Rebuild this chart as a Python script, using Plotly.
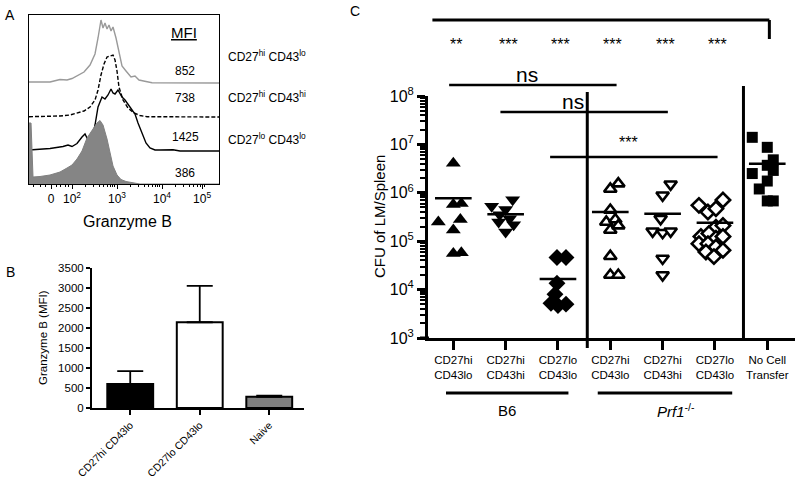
import numpy as np
import plotly.graph_objects as go

W, H = 800, 480
FONT = "Liberation Sans, Arial, sans-serif"


def px(x):
    return x / W


def py(y):
    return 1 - y / H


# ---------------- Panel A: Granzyme B histograms (x in decades, h = height above baseline) ----
gray_x = [1.044, 1.511, 1.733, 1.889, 2.0, 2.133, 2.267, 2.4, 2.511, 2.578, 2.644, 2.689, 2.733,
          2.778, 2.822, 2.867, 2.911, 2.978, 3.044, 3.111, 3.2, 3.311, 3.4, 3.489, 3.644, 3.778, 5.267]
gray_h = [1, 1, 3.5, 3, 4.5, 8, 11, 18, 29, 45, 63, 55, 60, 54, 58, 52, 56, 45, 30, 17, 12, 6, 7,
          3, 1.5, 0.3, 0]

dash_x = [1.044, 1.733, 1.956, 2.133, 2.267, 2.4, 2.511, 2.578, 2.644, 2.711, 2.778, 2.844, 2.911,
          2.956, 3.0, 3.044, 3.133, 3.244, 3.378, 3.511, 3.667, 5.267]
dash_h = [0.3, 1, 2, 4, 6, 10, 17, 27, 42, 53, 60, 61, 62, 57, 46, 30, 17, 9, 4, 1.5, 0.3, 0]

black_x = [1.044, 1.511, 1.8, 1.911, 2.0, 2.111, 2.222, 2.289, 2.356, 2.444, 2.511, 2.578, 2.667,
           2.733, 2.8, 2.867, 2.911, 2.956, 3.022, 3.111, 3.178, 3.244, 3.333, 3.4, 3.467, 3.556,
           3.644, 3.733, 3.844, 3.956, 4.244, 4.4, 5.267]
black_h = [1, 2.5, 4.5, 6, 4.5, 7.5, 14, 17, 11, 11, 26, 44, 54, 52, 56, 62, 58, 57, 61, 54, 51, 47,
           41, 37, 28, 18, 8, 3, 1, 1, 1.3, 0, 0]

fill_x = [1.044, 1.089, 1.133, 1.289, 1.511, 1.733, 1.889, 2.0, 2.111, 2.222, 2.333, 2.444, 2.556,
          2.622, 2.689, 2.778, 2.844, 2.911, 3.0, 3.089, 3.2, 3.356, 3.511, 5.267]
fill_h = [61, 61, 7, 7.5, 9, 12, 16, 19, 25, 33, 46, 53, 61, 63.5, 59, 45, 31, 18, 9, 4.5, 2.5, 1,
          0, 0]

mfi_values = ["852", "738", "1425", "386"]
pop_labels = ["CD27<sup>hi</sup> CD43<sup>lo</sup>", "CD27<sup>hi</sup> CD43<sup>hi</sup>",
              "CD27<sup>lo</sup> CD43<sup>lo</sup>"]
hist_ticks = [1.533, 2, 3, 4, 4.89]
hist_ticktext = ["0", "10<sup>2</sup>", "10<sup>3</sup>", "10<sup>4</sup>", "10<sup>5</sup>"]

# ---------------- Panel B: bar chart ----------------
b_cats = ["CD27hi CD43lo", "CD27lo CD43lo", "Naive"]
b_vals = [600, 2150, 280]
b_err = [325, 910, 30]

# ---------------- Panel C: CFU scatter ----------------
c_cats = ["CD27hi<br>CD43lo", "CD27hi<br>CD43hi", "CD27lo<br>CD43lo", "CD27hi<br>CD43lo",
          "CD27hi<br>CD43hi", "CD27lo<br>CD43lo", "No Cell<br>Transfer"]
c_vals = [
    [4.1e6, 5.7e5, 6.0e5, 2.5e5, 2.8e5, 1.7e5, 5.6e4, 5.8e4],
    [7.2e5, 5.3e5, 4.5e5, 3.5e5, 2.9e5, 2.5e5, 2.2e5, 1.55e5],
    [4.6e4, 4.6e4, 1.35e4, 8.0e3, 5.2e3, 4.7e3, 5.0e3],
    [1.2e6, 1.55e6, 4.4e5, 2.5e5, 2.8e5, 1.7e5, 2.1e5, 4.9e4, 2.0e4, 2.0e4],
    [1.5e6, 8.9e5, 2.9e5, 1.6e5, 1.5e5, 1.6e5, 4.4e4, 2.0e4],
    [5.5e5, 4.0e5, 4.7e5, 7.1e5, 1.95e5, 2.1e5, 1.25e5, 1.45e5, 1.15e5, 1.25e5, 8.9e4, 8.9e4,
     7.6e4, 6.0e4, 4.8e4, 6.5e4],
    [1.4e7, 8.7e6, 4.8e6, 3.7e6, 2.9e6, 2.5e6, 1.75e6, 1.2e6, 6.8e5, 6.8e5],
]
c_jitter_px = [
    [0, 0, 8, -15, 7, 0, 0, 8],
    [7, -14, 0, -6, 4, -7, 8, 0],
    [-1, 8, -1, -3, -7, 0, 8],
    [0, 8, 0, -4, 5, 0, 8, 0, 0, 8],
    [8, 0, -2, -10, 0, 8, 0, 0],
    [-16, -7, 1, 8, 1, 8, -14, -6, 1, 8, -16, -7, 1, -9, -1, 8],
    [-15, 0, 6, 0, 6, -15, 0, -8, 0, 6],
]
c_means = [7.7e5, 3.6e5, 1.65e4, 4.0e5, 3.7e5, 2.4e5, 4.0e6]
c_stars = ["**", "***", "***", "***", "***", "***"]
c_ytick_vals = [1e3, 1e4, 1e5, 1e6, 1e7, 1e8]
c_ytick_text = ["10<sup>3</sup>", "10<sup>4</sup>", "10<sup>5</sup>", "10<sup>6</sup>",
                "10<sup>7</sup>", "10<sup>8</sup>"]

fig = go.Figure()

# ---- Panel A traces
offsets = [101, 67, 33, 0]
fig.add_trace(go.Scatter(x=gray_x, y=np.array(gray_h) + offsets[0], mode="lines",
                         line=dict(color="#9a9a9a", width=1.4), xaxis="x", yaxis="y",
                         showlegend=False, hoverinfo="skip"))
fig.add_trace(go.Scatter(x=dash_x, y=np.array(dash_h) + offsets[1], mode="lines",
                         line=dict(color="black", width=1.4, dash="4px,2px"), xaxis="x",
                         yaxis="y", showlegend=False, hoverinfo="skip"))
fig.add_trace(go.Scatter(x=black_x, y=np.array(black_h) + offsets[2], mode="lines",
                         line=dict(color="black", width=1.4), xaxis="x", yaxis="y",
                         showlegend=False, hoverinfo="skip"))
fig.add_trace(go.Scatter(x=fill_x, y=np.array(fill_h) + offsets[3], mode="lines", fill="tozeroy",
                         fillcolor="#858585", line=dict(color="#808080", width=1), xaxis="x",
                         yaxis="y", showlegend=False, hoverinfo="skip"))

# ---- Panel B
fig.add_trace(go.Bar(x=b_cats, y=b_vals, width=0.66,
                     marker=dict(color=["black", "white", "#808080"],
                                 line=dict(color="black", width=2)),
                     error_y=dict(type="data", symmetric=False, array=b_err,
                                  arrayminus=[0, 0, 0], color="black", thickness=1.8, width=13),
                     xaxis="x2", yaxis="y2", showlegend=False))

# ---- Panel C
CAT_PX = 52.3
symbols = ["triangle-up", "triangle-down", "diamond", "triangle-up", "triangle-down", "diamond",
           "square"]
fills = ["black", "black", "black", "white", "white", "white", "black"]
sizes = [13, 13, 13, 11, 11, 11, 11]
lws = [0, 0, 0, 2.6, 2.6, 2.6, 0]
for i, vals in enumerate(c_vals):
    xs = i + np.array(c_jitter_px[i]) / CAT_PX
    fig.add_trace(go.Scatter(x=xs, y=vals, mode="markers", xaxis="x3", yaxis="y3",
                             marker=dict(symbol=symbols[i], color=fills[i], size=sizes[i],
                                         line=dict(color="black", width=lws[i])),
                             showlegend=False, cliponaxis=False))
    fig.add_trace(go.Scatter(x=[i - 0.35, i + 0.35], y=[c_means[i], c_means[i]], mode="lines",
                             line=dict(color="black", width=2.5), xaxis="x3", yaxis="y3",
                             showlegend=False, hoverinfo="skip"))

shapes = []
# Panel C separators
shapes.append(dict(type="line", xref="x3", yref="paper", x0=2.56, x1=2.56, y0=py(92), y1=py(348),
                   line=dict(color="black", width=3)))
shapes.append(dict(type="line", xref="x3", yref="paper", x0=5.545, x1=5.545, y0=py(86),
                   y1=py(338), line=dict(color="black", width=3)))
# x-axis stub left of y-axis
shapes.append(dict(type="line", xref="paper", yref="paper", x0=px(420), x1=px(429), y0=py(338),
                   y1=py(338), line=dict(color="black", width=3)))
# top bracket
shapes.append(dict(type="line", xref="x3", yref="paper", x0=-0.4, x1=6.04, y0=py(20), y1=py(20),
                   line=dict(color="black", width=3)))
shapes.append(dict(type="line", xref="x3", yref="paper", x0=6.04, x1=6.04, y0=py(20), y1=py(39),
                   line=dict(color="black", width=3)))
# ns / *** bars
for (xa, xb, yy) in [(-0.08, 3.12, 85), (0.9, 4.1, 112), (1.85, 5.05, 157)]:
    shapes.append(dict(type="line", xref="x3", yref="paper", x0=xa, x1=xb, y0=py(yy), y1=py(yy),
                       line=dict(color="black", width=2.5)))
# group underlines
shapes.append(dict(type="line", xref="x3", yref="paper", x0=-0.14, x1=2.2, y0=py(393), y1=py(393),
                   line=dict(color="black", width=3)))
shapes.append(dict(type="line", xref="x3", yref="paper", x0=2.76, x1=5.33, y0=py(393),
                   y1=py(393), line=dict(color="black", width=3)))

ann = []


def note(text, x, y, size, xref="paper", xanchor="center", **kw):
    ann.append(dict(text=text, x=x, y=y, xref=xref, yref="paper", showarrow=False,
                    xanchor=xanchor, yanchor="middle",
                    font=dict(size=size, family=FONT, color="black"), **kw))


# panel letters
for t, x, y in [("A", 10, 15), ("B", 10, 272), ("C", 355, 11)]:
    note(t, px(x), py(y), 14)
# Panel A texts
note("<u>MFI</u>", px(184), py(33), 15)
for t, y in zip(mfi_values, [71, 98, 137, 173]):
    note(t, px(185), py(y), 12)
for t, y in zip(pop_labels, [56, 97, 139]):
    note(t, px(226), py(y), 12, xanchor="left")
note("Granzyme B", px(127), py(221), 16)
# Panel B y title
note("Granzyme B (MFI)", px(43), py(338), 11.5, textangle=-90)
# Panel C texts
for i, s in enumerate(c_stars):
    note(s, i + 0.05, py(44), 16, xref="x3")
note("ns", 1.41, py(74), 21, xref="x3")
note("ns", 2.29, py(101), 21, xref="x3")
note("***", 3.34, py(142), 16, xref="x3")
note("B6", 1.03, py(410), 15, xref="x3")
note("<i>Prf1</i><sup>-/-</sup>", 4.26, py(410), 15, xref="x3")
note("CFU of LM/Spleen", px(379), py(217), 15, textangle=-90)

minor_a = []
for n in [2, 3, 4]:
    for k in range(2, 10):
        minor_a.append(np.log10(k * 10 ** n))
minor_a += [1.15, 1.3, 1.42, 1.65, 1.75, 1.85, 1.92]
minor_c = [k * 10 ** n for n in range(3, 8) for k in range(2, 10)]

fig.update_layout(
    width=W, height=H, autosize=False, margin=dict(l=0, r=0, t=0, b=0, pad=0, autoexpand=False),
    paper_bgcolor="white", plot_bgcolor="white",
    font=dict(family=FONT, color="black"),
    shapes=shapes, annotations=ann, showlegend=False,
    xaxis=dict(domain=[px(29), px(219)], range=[1.044, 5.267], anchor="y", showgrid=False,
               zeroline=False, showline=True, mirror=True, linecolor="black", linewidth=1,
               tickmode="array", tickvals=hist_ticks, ticktext=hist_ticktext, ticks="outside",
               ticklen=4, tickwidth=1, tickcolor="black", tickfont=dict(size=12),
               automargin=False,
               minor=dict(tickmode="array", tickvals=minor_a, ticks="outside", ticklen=2,
                          tickcolor="black")),
    yaxis=dict(domain=[py(184), py(15)], range=[0, 169], anchor="x", showgrid=False,
               zeroline=False, showline=True, mirror=True, linecolor="black", linewidth=1,
               showticklabels=False, ticks="", automargin=False),
    xaxis2=dict(domain=[px(92), px(304)], range=[-0.55, 2.5], anchor="y2", showgrid=False,
                zeroline=False, showline=True, linecolor="black", linewidth=2, ticks="outside",
                ticklen=5, tickwidth=1.5, tickcolor="black", tickangle=-45,
                tickfont=dict(size=10.5), automargin=False),
    yaxis2=dict(domain=[py(408), py(268.4)], range=[0, 3500], anchor="x2", showgrid=False,
                zeroline=False, showline=True, linecolor="black", linewidth=2, ticks="outside",
                ticklen=4, tickwidth=1.5, tickcolor="black", dtick=500, tickfont=dict(size=11.5),
                automargin=False),
    xaxis3=dict(domain=[px(428), px(795)], range=[-0.484, 6.53], anchor="y3", showgrid=False,
                zeroline=False, showline=True, linecolor="black", linewidth=3, tickmode="array",
                tickvals=list(range(7)), ticktext=c_cats, ticks="outside", ticklen=9,
                tickwidth=3, tickcolor="black", tickfont=dict(size=11.5), automargin=False),
    yaxis3=dict(domain=[py(338), py(96)], type="log", range=[3, 8], anchor="x3", showgrid=False,
                zeroline=False, showline=True, linecolor="black", linewidth=3, tickmode="array",
                tickvals=c_ytick_vals, ticktext=c_ytick_text, ticks="outside", ticklen=8,
                tickwidth=3, tickcolor="black", tickfont=dict(size=16), automargin=False,
                minor=dict(tickmode="array", tickvals=minor_c, ticks="outside", ticklen=5,
                           tickwidth=2, tickcolor="black")),
)

fig.write_html("out.html", config={"displayModeBar": False},
               post_script="document.body.style.margin='0';document.body.style.overflow='hidden';")
